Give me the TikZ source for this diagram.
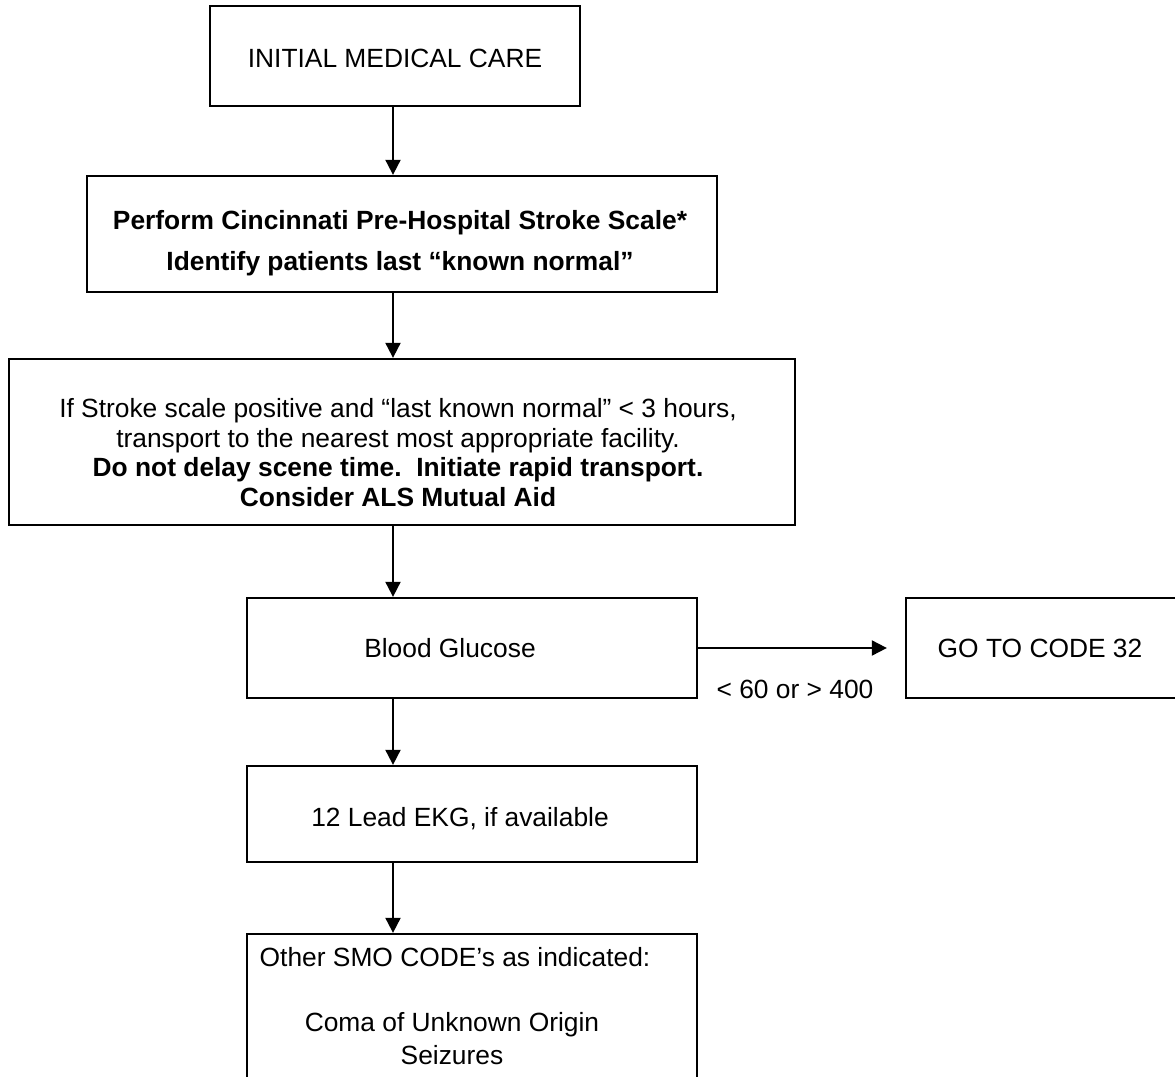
\documentclass[tikz,border=0pt]{standalone}
\usepackage{fontspec}
\setmainfont{Liberation Sans}
\usetikzlibrary{arrows.meta}
\begin{document}
\begin{tikzpicture}[x=0.02cm,y=-0.02cm,
  box/.style={draw=black,line width=1.3pt,inner sep=0pt},
  txt/.style={anchor=base,inner sep=0pt,font=\fontsize{15}{18}\selectfont},
  btxt/.style={txt,font=\fontsize{15}{18}\selectfont\bfseries},
  arr/.style={line width=1.1pt,-{Triangle[length=0.3cm,width=0.3cm]}}]
\useasboundingbox (0,0) rectangle (1175,1077);
\clip (0,0) rectangle (1175,1077);
% boxes
\node[box,minimum width=370*0.02cm,minimum height=100*0.02cm] (b1) at (395,56) {};
\node[box,minimum width=630*0.02cm,minimum height=116*0.02cm] (b2) at (402,234) {};
\node[box,minimum width=786*0.02cm,minimum height=166*0.02cm] (b3) at (402,442) {};
\node[box,minimum width=450*0.02cm,minimum height=100*0.02cm] (b4) at (472,648) {};
\node[box,minimum width=300*0.02cm,minimum height=100*0.02cm] (b5) at (1056,648) {};
\node[box,minimum width=450*0.02cm,minimum height=96*0.02cm] (b6) at (472,814) {};
\node[box,minimum width=450*0.02cm,minimum height=200*0.02cm] (b7) at (472,1034) {};
% texts
\node[txt] (t1) at (395,68) {INITIAL MEDICAL CARE};
\node[btxt] (t2a) at (400,230) {Perform Cincinnati Pre-Hospital Stroke Scale*};
\node[btxt] (t2b) at (400,271) {Identify patients last “known normal”};
\node[txt] (t3a) at (398,417) {If Stroke scale positive and “last known normal” < 3 hours,};
\node[txt] (t3b) at (398,447) {transport to the nearest most appropriate facility.};
\node[btxt] (t3c) at (398,476) {Do not delay scene time.\ \ Initiate rapid transport.};
\node[btxt] (t3d) at (398,506) {Consider ALS Mutual Aid};
\node[txt] (t4) at (450,657) {Blood Glucose};
\node[txt] (t5) at (1040,657) {GO TO CODE 32};
\node[txt] (lab) at (795,698) {< 60 or > 400};
\node[txt] (t6) at (460,826) {12 Lead EKG, if available};
\node[txt] (t7a) at (455,966) {Other SMO CODE’s as indicated:};
\node[txt] (t7b) at (452,1031) {Coma of Unknown Origin};
\node[txt] (t7c) at (452,1064) {Seizures};
% connectors
\draw[arr] (b1.south -| 393,0) -- (b2.north -| 393,0);
\draw[arr] (b2.south -| 393,0) -- (b3.north -| 393,0);
\draw[arr] (b3.south -| 393,0) -- (b4.north -| 393,0);
\draw[arr] (b4.south -| 393,0) -- (b6.north -| 393,0);
\draw[arr] (b6.south -| 393,0) -- (b7.north -| 393,0);
\coordinate (gend) at ([xshift=-18*0.02cm]b5.west);
\draw[arr] (b4.east) -- (gend);
\end{tikzpicture}
\end{document}
